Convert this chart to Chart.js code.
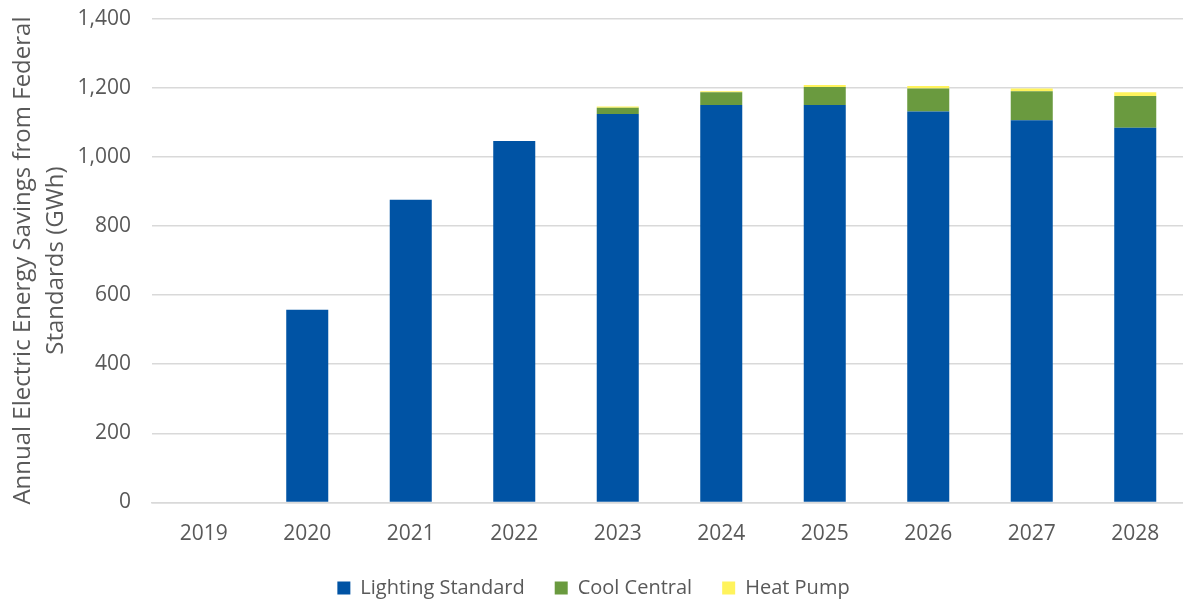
<!DOCTYPE html>
<html>
<head>
<meta charset="utf-8">
<script src="https://cdn.jsdelivr.net/npm/chart.js@4"></script>
<style>
  html, body { margin: 0; padding: 0; background: #fff; overflow: hidden; }
  #wrap { width: 1190px; height: 623px; margin-top: -15px; }
</style>
</head>
<body>
<div id="wrap"><canvas id="chart"></canvas></div>
<script>
// Values (GWh)
const years = ['2019', '2020', '2021', '2022', '2023', '2024', '2025', '2026', '2027', '2028'];
const lightingStandard = [0, 558, 876, 1046, 1124, 1150, 1150, 1131, 1106, 1084];
const coolCentral = [0, 0, 0, 0, 18, 37, 52, 67, 84, 92];
const heatPump = [0, 0, 0, 0, 4, 3, 6, 7, 8, 11];
const yTicks = [0, 200, 400, 600, 800, 1000, 1200, 1400];

const textColor = '#595959';
const fontFamily = '"Open Sans", "Noto Sans", sans-serif';

new Chart(document.getElementById('chart'), {
  type: 'bar',
  data: {
    labels: years,
    datasets: [
      { label: 'Lighting Standard', data: lightingStandard, backgroundColor: '#0053A4' },
      { label: 'Cool Central', data: coolCentral, backgroundColor: '#6A9A3F' },
      { label: 'Heat Pump', data: heatPump, backgroundColor: '#FFF35C' }
    ]
  },
  options: {
    responsive: true,
    maintainAspectRatio: false,
    animation: false,
    layout: { padding: { top: 0, right: 3, left: 0, bottom: 0 } },
    datasets: {
      bar: { barPercentage: 0.406, categoryPercentage: 1.0 }
    },
    plugins: {
      tooltip: { enabled: false },
      legend: {
        position: 'bottom',
        labels: {
          boxWidth: 13,
          boxHeight: 13,
          padding: 30,
          color: textColor,
          font: { family: fontFamily, size: 20 }
        }
      }
    },
    scales: {
      x: {
        stacked: true,
        grid: { display: false },
        border: { color: '#d9d9d9', width: 1.5 },
        ticks: { color: textColor, padding: 11, font: { family: fontFamily, size: 21 } },
        afterFit: (scale) => { scale.height = 45.5; }
      },
      y: {
        stacked: true,
        min: 0,
        max: 1400,
        afterBuildTicks: (scale) => { scale.ticks = yTicks.map(v => ({ value: v })); },
        grid: { color: '#d9d9d9', lineWidth: 1.5, drawTicks: false },
        border: { display: false },
        ticks: {
          color: textColor,
          padding: 21,
          font: { family: fontFamily, size: 21 },
          callback: (v) => v.toLocaleString('en-US')
        },
        title: {
          display: true,
          text: ['Annual Electric Energy Savings from Federal', 'Standards (GWh)'],
          color: textColor,
          font: { family: fontFamily, size: 24, lineHeight: 1.4 },
          padding: { top: 6, bottom: 0 }
        },
        afterFit: (scale) => { scale.width = 152; }
      }
    }
  }
});
</script>
</body>
</html>
